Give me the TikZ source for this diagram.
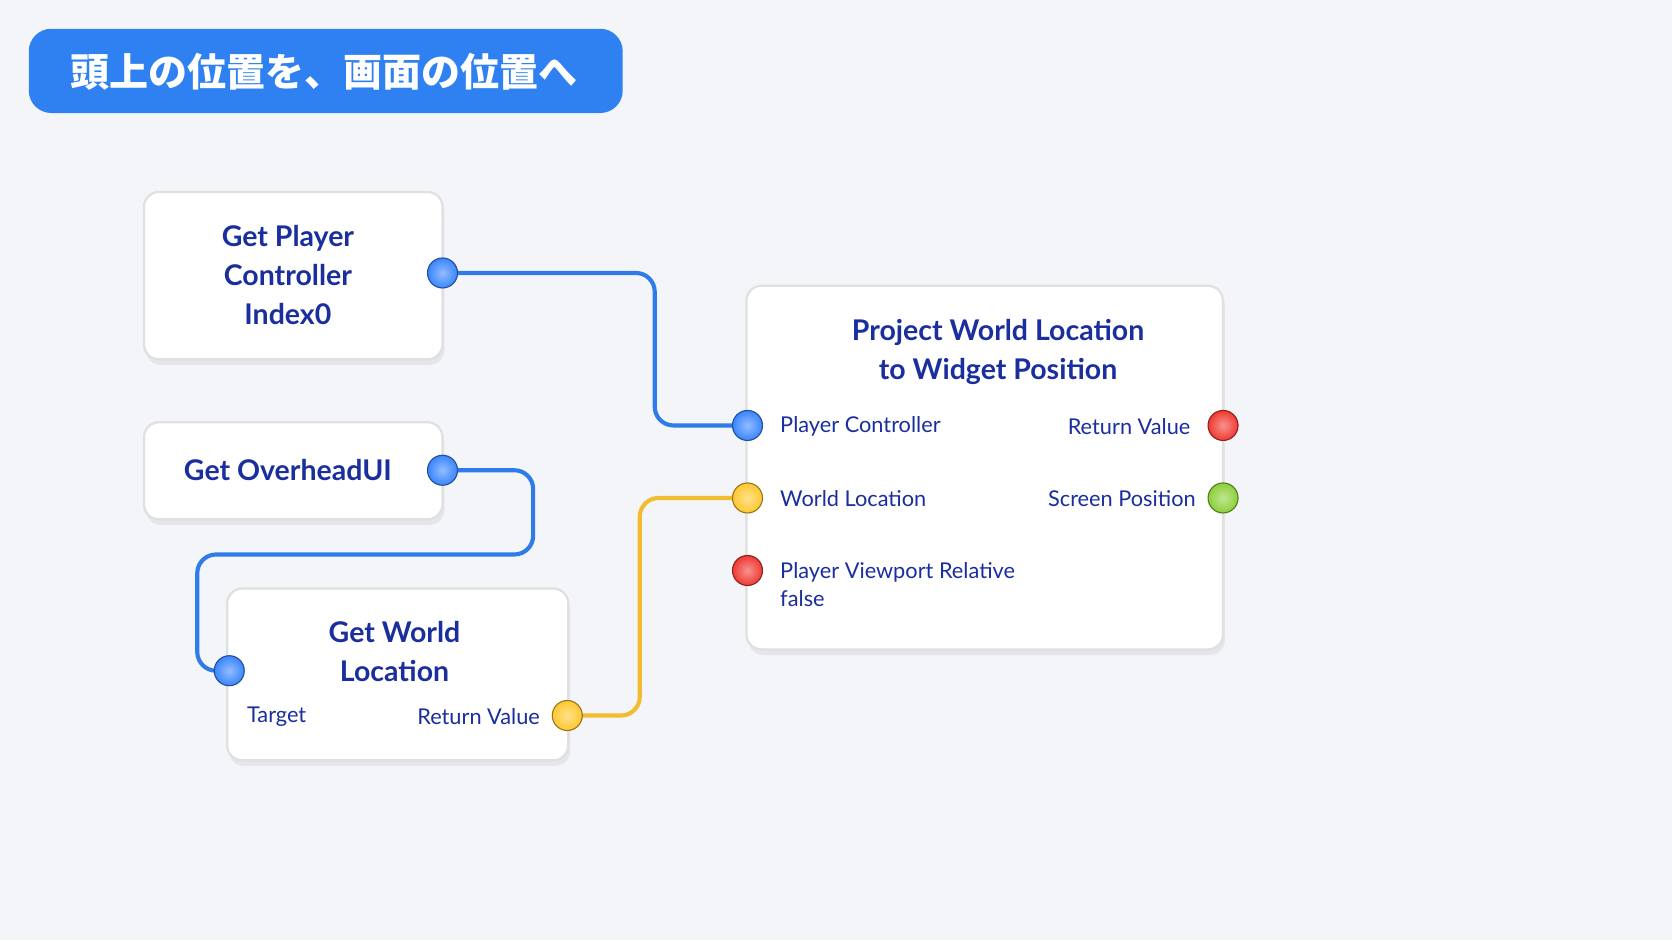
\documentclass[tikz,border=0pt]{standalone}
\usepackage{fontspec}
\setmainfont{Lato}
\newfontfamily\cjk{Noto Sans CJK JP}
\usetikzlibrary{shadows}
\definecolor{bgc}{HTML}{F4F5F8}
\definecolor{ink}{HTML}{1A2E9E}
\definecolor{titleblue}{HTML}{2F80F0}
\definecolor{pinblue}{HTML}{3A86FF}
\definecolor{pinyellow}{HTML}{FFC830}
\definecolor{pinred}{HTML}{F03A32}
\definecolor{pingreen}{HTML}{8CD03A}
\definecolor{wireblue}{HTML}{2F7BE8}
\definecolor{wireyellow}{HTML}{F2BC30}
\tikzset{
  box/.style={draw=black!12, fill=white, rounded corners=4pt, line width=0.6pt,
    drop shadow={opacity=0.12, shadow xshift=0.5pt, shadow yshift=-1.5pt}},
  head/.style={text=ink, font=\fontsize{7.6}{10.4}\selectfont\bfseries, align=center},
  pinlabel/.style={text=ink, inner sep=0pt, font=\fontsize{5.8}{7.6}\selectfont},
  pin/.style={circle, minimum size=8pt, inner sep=0pt, draw=#1!60!black, line width=0.3pt,
    inner color=#1!55!white, outer color=#1},
  wire/.style={line width=1.1pt, rounded corners=5pt}
}
\begin{document}
\begin{tikzpicture}[x=0.01cm,y=-0.01cm]
    \fill[bgc] (0,0) rectangle (1568,882);
    \useasboundingbox (0,0) rectangle (1568,882);

    % title
    \fill[titleblue, rounded corners=6pt] (27,27) rectangle (584,106);
    \node[text=white, font=\cjk\fontsize{10.4}{12}\selectfont\bfseries, anchor=west] (title) at (54,67) {頭上の位置を、画面の位置へ};

    % boxes
    \draw[box] (135,180) rectangle (415,337);
    \draw[box] (135,396) rectangle (415,487);
    \draw[box] (213,552) rectangle (533,713);
    \draw[box] (700,268) rectangle (1147,609);

    \node[head] (GPC) at (270,258) {Get Player\\Controller\\Index0};
    \node[head] (GOU) at (270,441) {Get OverheadUI};
    \node[head] (GWL) at (370,611) {Get World\\Location};
    \node[head] (PWL) at (936,330) {Project World Location\\to Widget Position};

    % pin labels
    \node[pinlabel, anchor=west] (lTarget) at (231,672) {Target};
    \node[pinlabel, anchor=east] (lGWLret) at (507,672) {Return Value};
    \node[pinlabel, anchor=west] (lPC) at (731,400) {Player Controller};
    \node[pinlabel, anchor=west] (lWL) at (731,468) {World Location};
    \node[pinlabel, anchor=west, align=left] (lPVR) at (731,548) {Player Viewport Relative\\false};
    \node[pinlabel, anchor=east] (lRV) at (1117,400) {Return Value};
    \node[pinlabel, anchor=east] (lSP) at (1122,468) {Screen Position};

    % wires
    \draw[wire, wireblue] (415,256) -- (614,256) -- (614,399) -- (701,399);
    \draw[wire, wireblue] (415,441) -- (500,441) -- (500,520) -- (185,520) -- (185,629) -- (215,629);
    \draw[wire, wireyellow] (532,671) -- (600,671) -- (600,467) -- (701,467);

    % pins
    \node[pin=pinblue] (GPCout) at (415,256) {};
    \node[pin=pinblue] (GOUout) at (415,441) {};
    \node[pin=pinblue] (GWLin) at (215,629) {};
    \node[pin=pinyellow] (GWLout) at (532,671) {};
    \node[pin=pinblue] (PWLpc) at (701,399) {};
    \node[pin=pinyellow] (PWLwl) at (701,467) {};
    \node[pin=pinred] (PWLpvr) at (701,535) {};
    \node[pin=pinred] (PWLrv) at (1147,399) {};
    \node[pin=pingreen] (PWLsp) at (1147,467) {};
\end{tikzpicture}
\end{document}
